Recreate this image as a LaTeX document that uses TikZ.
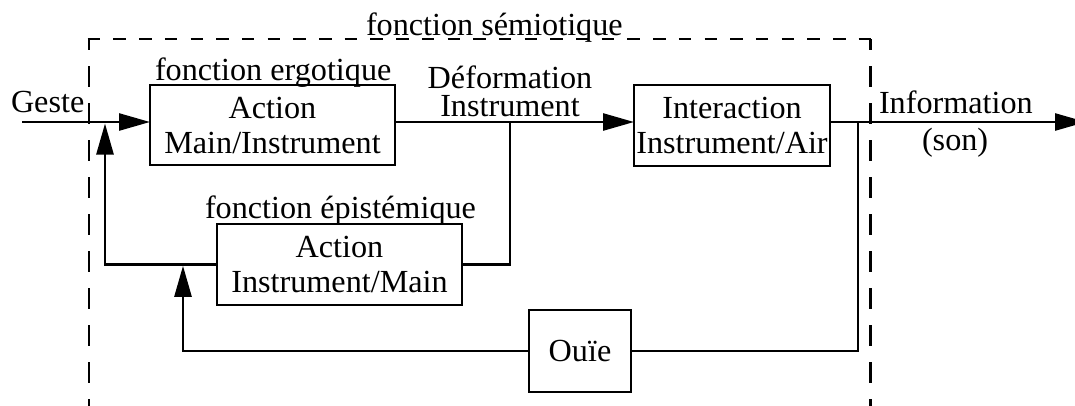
\documentclass[tikz,border=0pt]{standalone}
\usepackage{fontspec}
\setmainfont{Liberation Serif}
\usetikzlibrary{arrows.meta}
\begin{document}
\begin{tikzpicture}[x=1pt,y=-1pt,
  every node/.style={font=\fontsize{32.2}{35}\selectfont, inner sep=0pt, outer sep=0pt},
  blk/.style={draw, line width=2.6pt, align=center, minimum height=80pt},
  wire/.style={line width=2.6pt},
  tip/.style={-{Triangle[length=31pt,width=17pt]}},
  frame/.style={line width=2.6pt},
  lbl/.style={anchor=base west},
  clbl/.style={anchor=base},
]
\useasboundingbox (0,0) rectangle (1075,405);
% dashed frame
\coordinate (fl) at (89,39);
\coordinate (fr) at (870.5,39);
\coordinate (flb) at (89,410);
\coordinate (frb) at (870.5,410);
\draw[frame, dash pattern=on 12.5pt off 13.2pt] ([xshift=-1.3pt]fl) -- (fr);
\draw[frame, dash pattern=on 21pt off 16pt, dash phase=10pt] (fl) -- (flb);
\draw[frame, dash pattern=on 21pt off 16pt, dash phase=10pt] (fr) -- (frb);
% boxes
\node[blk, minimum width=245pt] (b1) at (272.5,125) {Action\\Main/Instrument};
\node[blk, minimum width=196pt, minimum height=81pt] (b2) at (732,125.5) {Interaction\\Instrument/Air};
\node[blk, minimum width=245pt, minimum height=81pt] (b3) at (339.5,264.5) {Action\\Instrument/Main};
\node[blk, minimum width=102pt, minimum height=82pt] (b4) at (580,351) {Ouïe};
% labels
\node[lbl] (tsem) at (366,35) {fonction sémiotique};
\node[lbl] (tgeste) at (11,112) {Geste};
\node[lbl] (terg) at (155,80) {fonction ergotique};
\node[clbl] (tdef1) at (510,88) {Déformation};
\node[clbl] (tdef2) at (510,116) {Instrument};
\node[lbl] (tinf) at (879,113) {Information};
\node[lbl] (tson) at (922,150) {(son)};
\node[lbl] (tepi) at (205,218) {fonction épistémique};
% connectors
\coordinate (gin) at (22,122);
\coordinate (jdef) at (510,122);
\coordinate (jfb) at (105,123.5);
\coordinate (jout) at (858,122);
\coordinate (out) at (1086,122);
\coordinate (jear) at (183,265.8);
\draw[wire,tip] (gin) -- (gin -| b1.west);
\draw[wire,tip] (b1.east |- gin) -- (b2.west |- gin);
\draw[wire] (jdef) |- (b3.east);
\draw[wire,tip] (b3.west) -| (jfb);
\draw[wire,tip] (b2.east |- gin) -- (out);
\draw[wire] (jout) |- (b4.east);
\draw[wire,tip] (b4.west) -| (jear);
\end{tikzpicture}
\end{document}
